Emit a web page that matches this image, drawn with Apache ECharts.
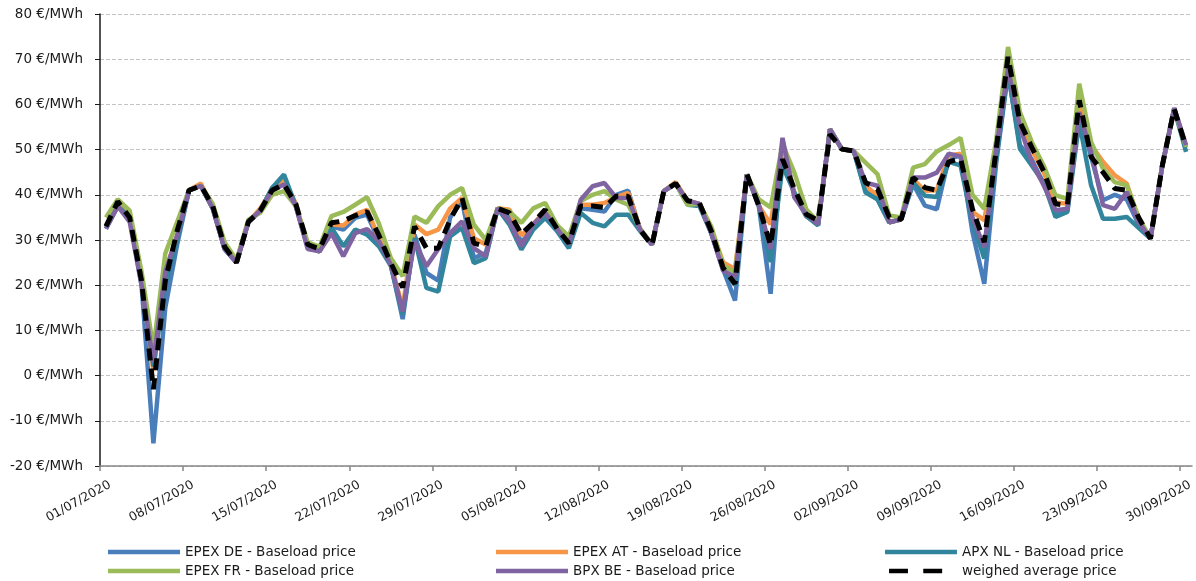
<!DOCTYPE html>
<html>
<head>
<meta charset="utf-8">
<title>Baseload prices Q3 2020</title>
<script src="https://cdn.jsdelivr.net/npm/echarts@6/dist/echarts.min.js"></script>
<style>
  html, body { margin: 0; padding: 0; background: #ffffff; }
  #chart { width: 1196px; height: 581px; }
</style>
</head>
<body>
<div id="chart"></div>
<script>
// Daily baseload prices, 01/07/2020 - 30/09/2020 (€/MWh)
const dayCount = 92;

const tickLabels = ['01/07/2020', '08/07/2020', '15/07/2020', '22/07/2020', '29/07/2020',
  '05/08/2020', '12/08/2020', '19/08/2020', '26/08/2020', '02/09/2020',
  '09/09/2020', '16/09/2020', '23/09/2020', '30/09/2020'];

const epexDE = [32.5, 37.5, 35, 20, -15, 15, 29, 41, 42, 37, 28, 25, 34, 36.5,
  41.5, 43.7, 37.5, 28.5, 27.5, 33, 32.3, 34.9, 35.6, 30, 24.5, 12.5, 31.2, 22.7,
  21, 35, 38.6, 26, 27.1, 37, 35, 29.5, 32.5, 35.5, 32.3, 28.6, 37, 36.7,
  36.3, 40, 40.9, 32.3, 29, 40.8, 42.5, 38.5, 38, 31.5, 23.5, 16.6, 44.5, 37.6,
  18.1, 52, 40, 35.3, 33.5, 54.5, 50.1, 49.7, 40.9, 39, 33.9, 34.6, 42.4, 37.6,
  36.8, 48, 48.7, 31.8, 20.3, 47, 67, 51, 47.8, 42.5, 36, 36.5, 58.3, 48.4,
  38.8, 40, 39, 33.5, 30.3, 46.5, 59, 50.6];

const epexAT = [33, 38, 35.5, 21, 1, 23, 31, 41, 42.5, 37, 28.5, 25, 34, 37,
  41, 43.4, 38, 28.5, 27.5, 33.5, 33.2, 35.6, 36.7, 30.4, 24.8, 15, 33.4, 31.3,
  32.3, 37, 39.3, 30.4, 29, 37, 36.7, 31, 33.5, 36.5, 32.5, 29.3, 37.8, 37.8,
  38.2, 39.5, 40.4, 32.5, 29, 40.8, 42.8, 38.7, 38, 32.5, 25, 23.6, 44.5, 37.6,
  33.5, 51, 40.5, 35.3, 33.5, 54.5, 50.1, 49.7, 42, 39.8, 33.9, 34.6, 43.5, 40.9,
  41, 48.7, 49.1, 36.2, 34.4, 50, 69, 57, 50, 45, 38.3, 38, 61, 51,
  47.3, 44.3, 42.5, 34.5, 30.3, 46.5, 59, 50.6];

const apxNL = [33, 37.5, 35, 21, 2, 20, 30, 41, 42, 37, 28, 25, 34, 36.5,
  41.5, 44.5, 37.5, 28.5, 27.5, 32.7, 28.6, 32.3, 31.2, 28.6, 24.3, 13.5, 30.5, 19.4,
  18.6, 30.8, 32.7, 24.9, 26, 37, 33.4, 27.9, 32.3, 34.9, 32, 28.2, 36, 33.8,
  33, 35.6, 35.6, 32, 29, 40.8, 42.5, 37.8, 37.5, 31.5, 23.5, 20, 44.5, 37.6,
  25.1, 46.4, 40.5, 35.3, 33.2, 54.5, 50.1, 49.7, 40.5, 39, 33.9, 34.6, 42.7, 39.8,
  39.5, 47.3, 46.5, 34, 25.9, 48, 67.2, 50.2, 46.5, 42.7, 35.1, 36.2, 56.1, 42.1,
  34.7, 34.7, 35.1, 32.7, 30.3, 46.5, 59, 49.5];

const epexFR = [35, 39, 36.5, 23, 6, 27, 34, 41, 42, 38, 29.5, 25.5, 34.5, 36,
  40, 40.8, 37.5, 29.5, 28.5, 35.3, 36.2, 37.8, 39.5, 33.6, 26, 22, 35.2, 33.8,
  37.5, 40, 41.5, 33.4, 30, 37, 36.3, 33.8, 37, 38.2, 33.3, 30.8, 38.6, 40,
  40.8, 38.9, 37.8, 32.5, 29, 40.8, 42.5, 37.8, 38, 33, 24.3, 22.9, 44.5, 39,
  37.2, 51.2, 44.9, 36.8, 34, 54.5, 50.1, 49.7, 47.1, 44.6, 35.4, 35, 46, 46.8,
  49.6, 51, 52.6, 40, 36.9, 52, 72.7, 58.3, 51.7, 46.5, 39.9, 39.1, 64.6, 51.7,
  45.8, 42.8, 42.1, 35, 30.3, 46.5, 59, 50.6];

const bpxBE = [32.5, 37.5, 34, 20, 3, 23, 31, 41, 42, 37, 28, 25, 34, 36.5,
  41, 42.3, 37.5, 28, 27.5, 31.5, 26.4, 31.5, 32.4, 29.7, 24.5, 14.2, 29.7, 24.2,
  28, 31.5, 34.1, 28.2, 26.4, 37, 34.1, 28.6, 33.5, 36, 32.5, 29, 38.9, 41.9,
  42.6, 39.3, 39.3, 32.3, 29, 40.8, 42.5, 38.7, 38, 31.5, 23.2, 21.8, 44.5, 37.9,
  28, 52.6, 39.4, 35.7, 33.5, 54.5, 50.1, 49.7, 42.7, 42, 33.9, 34.6, 43.8, 43.8,
  44.9, 49.1, 48.5, 35, 28.4, 50, 67.9, 55, 47.3, 42.1, 36.6, 36.9, 58.3, 49.5,
  37.7, 36.9, 40.6, 34, 30.3, 46.5, 59.2, 51];

const weighedAvg = [33, 38.5, 35, 21, -3, 21, 32, 41, 42, 37.5, 28.5, 25, 34, 36.5,
  41, 42.3, 38, 29, 28, 33.8, 34.2, 35.4, 36.3, 31, 24.9, 19.5, 33, 28.2,
  28.2, 34.5, 39.3, 29.3, 28.6, 37, 36, 31.3, 33.8, 36.7, 32.5, 29.3, 37.5, 37.5,
  37.2, 39.7, 39.7, 32.3, 28.8, 40.8, 42.5, 38.7, 38.2, 32, 23.8, 20.3, 44.6, 37.6,
  28.8, 47.9, 41.3, 35.7, 34.3, 53.4, 50.1, 49.7, 42.7, 41.3, 35, 34.6, 43.8, 41.6,
  41, 47.3, 48, 36.9, 29.5, 50, 70.5, 56.1, 50.5, 45.3, 38, 37.7, 60.9, 48.4,
  45, 41.4, 41, 35, 30.3, 46.5, 59, 50.6];

const seriesDefs = [
  { name: 'EPEX DE - Baseload price', values: epexDE, color: '#4a7ebb' },
  { name: 'EPEX AT - Baseload price', values: epexAT, color: '#f79646' },
  { name: 'APX NL - Baseload price', values: apxNL, color: '#31859c' },
  { name: 'EPEX FR - Baseload price', values: epexFR, color: '#9bbb59' },
  { name: 'BPX BE - Baseload price', values: bpxBE, color: '#8064a2' },
  { name: 'weighed average price', values: weighedAvg, color: '#000000', dashed: true }
];

// each day occupies one unit on the x scale; points sit in the middle of their day
const toPoints = vals => vals.map((v, i) => [i + 0.5, v]);
const tickValues = tickLabels.map((_, k) => k * 7);
// date labels hang slightly to the right of their week tick
const labelShift = 0.85;
const labelValues = tickValues.map(v => v + labelShift);

const FONT = 'DejaVu Sans';
const TEXT = '#1a1a1a';

// dashed legend key: two short bars inside a 72 x 5 box
const dashIcon = 'path://M0,0h0.01v0.01h-0.01z M0.5,0h21v5h-21z M38.5,0h21v5h-21z M71.99,4.99h0.01v0.01h-0.01z';

// three legend columns, two entries each
const legendColumns = [
  { left: 108, names: [seriesDefs[0].name, seriesDefs[3].name] },
  { left: 496, names: [seriesDefs[1].name, seriesDefs[4].name] },
  { left: 885, names: [seriesDefs[2].name, seriesDefs[5].name] }
];

const chart = echarts.init(document.getElementById('chart'), null, { renderer: 'canvas' });

chart.setOption({
  animation: false,
  backgroundColor: '#ffffff',
  grid: { left: 100, right: 3, top: 14, bottom: 115, containLabel: false },
  xAxis: {
    type: 'value',
    min: 0,
    max: dayCount,
    interval: 7,
    splitLine: { show: false },
    axisLine: { show: true, onZero: false, lineStyle: { color: '#868686', width: 1.5 } },
    axisTick: { show: true, length: 5, customValues: tickValues, lineStyle: { color: '#868686', width: 1.5 } },
    axisLabel: {
      customValues: labelValues,
      formatter: v => tickLabels[Math.round((v - labelShift) / 7)] || '',
      rotate: 29,
      margin: 18,
      color: TEXT,
      fontFamily: FONT,
      fontSize: 12.5
    }
  },
  yAxis: {
    type: 'value',
    min: -20,
    max: 80,
    interval: 10,
    axisLine: { show: true, onZero: false, lineStyle: { color: '#1a1a1a', width: 1.5 } },
    axisTick: { show: true, length: 5, lineStyle: { color: '#1a1a1a', width: 1 } },
    splitLine: { show: true, lineStyle: { color: '#c4c4c4', width: 1, type: [4, 2] } },
    axisLabel: {
      formatter: '{value} €/MWh',
      margin: 17,
      color: TEXT,
      fontFamily: FONT,
      fontSize: 13.5
    }
  },
  legend: legendColumns.map(col => ({
    orient: 'vertical',
    left: col.left,
    top: 542.5,
    padding: 0,
    itemWidth: 72,
    itemHeight: 4.5,
    itemGap: 0,
    icon: 'rect',
    selectedMode: false,
    textStyle: { color: TEXT, fontFamily: FONT, fontSize: 13.5, lineHeight: 19 },
    data: col.names.map(n => n === seriesDefs[5].name ? { name: n, icon: dashIcon } : { name: n })
  })),
  series: seriesDefs.map(s => ({
    name: s.name,
    type: 'line',
    data: toPoints(s.values),
    showSymbol: false,
    symbol: 'none',
    color: s.color,
    lineStyle: s.dashed
      ? { color: s.color, width: 5, type: [12, 8] }
      : { color: s.color, width: 4.5 },
    z: 2
  }))
});
</script>
</body>
</html>
